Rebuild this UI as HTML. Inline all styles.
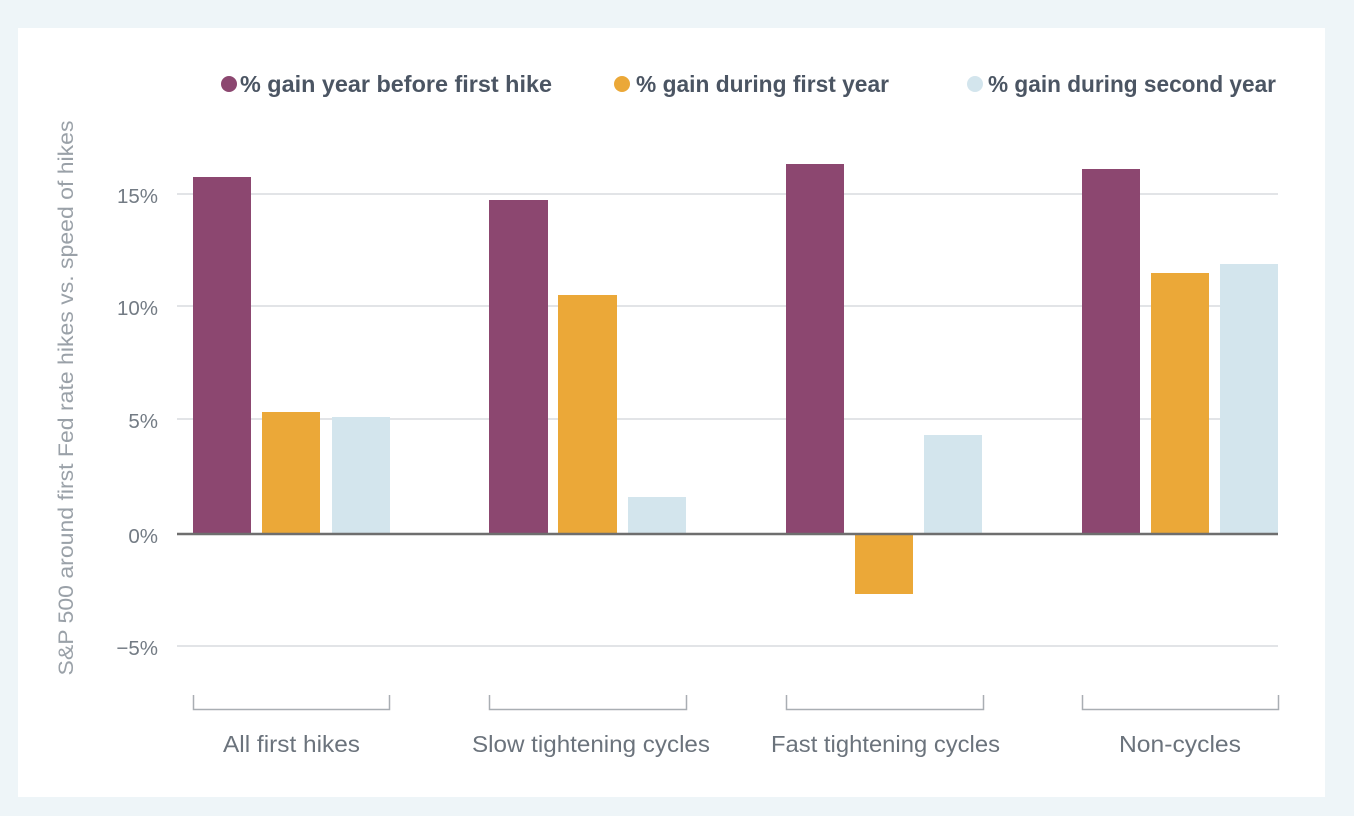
<!DOCTYPE html>
<html>
<head>
<meta charset="utf-8">
<style>
  html,body{margin:0;padding:0;background:#eef5f8;}
  body{width:1354px;height:816px;overflow:hidden;}
  svg{display:block;}
</style>
</head>
<body>
<svg width="1354" height="816" viewBox="0 0 1354 816" xmlns="http://www.w3.org/2000/svg">
  <rect x="0" y="0" width="1354" height="816" fill="#eef5f8"/>
  <rect x="18" y="28" width="1307" height="769" fill="#ffffff"/>

  <!-- Legend -->
  <g font-family="Liberation Sans, sans-serif" font-weight="bold" font-size="23.5" fill="#4b5563">
    <circle cx="229" cy="84" r="8" fill="#8c4770"/>
    <text x="240" y="92" textLength="312" lengthAdjust="spacingAndGlyphs">% gain year before first hike</text>
    <circle cx="622" cy="84" r="8" fill="#eba838"/>
    <text x="636" y="92" textLength="253" lengthAdjust="spacingAndGlyphs">% gain during first year</text>
    <circle cx="975" cy="84" r="8" fill="#d3e5ed"/>
    <text x="988" y="92" textLength="288" lengthAdjust="spacingAndGlyphs">% gain during second year</text>
  </g>

  <!-- Y axis title -->
  <text transform="translate(73,398) rotate(-90)" text-anchor="middle" font-family="Liberation Sans, sans-serif" font-size="21" fill="#9aa1a8" textLength="555" lengthAdjust="spacingAndGlyphs">S&amp;P 500 around first Fed rate hikes vs. speed of hikes</text>

  <!-- Gridlines -->
  <g stroke="#d9dcdf" stroke-width="1.5">
    <line x1="177" y1="194" x2="1278" y2="194"/>
    <line x1="177" y1="306" x2="1278" y2="306"/>
    <line x1="177" y1="419" x2="1278" y2="419"/>
    <line x1="177" y1="646" x2="1278" y2="646"/>
  </g>

  <!-- Tick labels -->
  <g font-family="Liberation Sans, sans-serif" font-size="20.5" fill="#737b84" text-anchor="end">
    <text x="158" y="203">15%</text>
    <text x="158" y="315">10%</text>
    <text x="158" y="428">5%</text>
    <text x="158" y="543">0%</text>
    <text x="158" y="655">−5%</text>
  </g>

  <!-- Bars -->
  <g>
    <!-- Group 1 -->
    <rect x="193" y="177" width="58" height="357" fill="#8c4770"/>
    <rect x="262" y="412" width="58" height="122" fill="#eba838"/>
    <rect x="332" y="417" width="58" height="117" fill="#d3e5ed"/>
    <!-- Group 2 -->
    <rect x="489" y="200" width="59" height="334" fill="#8c4770"/>
    <rect x="558" y="295" width="59" height="239" fill="#eba838"/>
    <rect x="628" y="497" width="58" height="37" fill="#d3e5ed"/>
    <!-- Group 3 -->
    <rect x="786" y="164" width="58" height="370" fill="#8c4770"/>
    <rect x="855" y="534" width="58" height="60" fill="#eba838"/>
    <rect x="924" y="435" width="58" height="99" fill="#d3e5ed"/>
    <!-- Group 4 -->
    <rect x="1082" y="169" width="58" height="365" fill="#8c4770"/>
    <rect x="1151" y="273" width="58" height="261" fill="#eba838"/>
    <rect x="1220" y="264" width="58" height="270" fill="#d3e5ed"/>
  </g>

  <!-- Zero axis -->
  <line x1="177" y1="534" x2="1278" y2="534" stroke="#6e6e6e" stroke-width="2.5"/>

  <!-- Brackets -->
  <g stroke="#a9aeb3" stroke-width="1.5" fill="none">
    <polyline points="193.5,695 193.5,709.5 389.5,709.5 389.5,695"/>
    <polyline points="489.5,695 489.5,709.5 686.5,709.5 686.5,695"/>
    <polyline points="786.5,695 786.5,709.5 983.5,709.5 983.5,695"/>
    <polyline points="1082.5,695 1082.5,709.5 1278.5,709.5 1278.5,695"/>
  </g>

  <!-- Category labels -->
  <g font-family="Liberation Sans, sans-serif" font-size="23" fill="#6b737c">
    <text x="223" y="752" textLength="137" lengthAdjust="spacingAndGlyphs">All first hikes</text>
    <text x="472" y="752" textLength="238" lengthAdjust="spacingAndGlyphs">Slow tightening cycles</text>
    <text x="771" y="752" textLength="229" lengthAdjust="spacingAndGlyphs">Fast tightening cycles</text>
    <text x="1119" y="752" textLength="122" lengthAdjust="spacingAndGlyphs">Non-cycles</text>
  </g>
</svg>
</body>
</html>
